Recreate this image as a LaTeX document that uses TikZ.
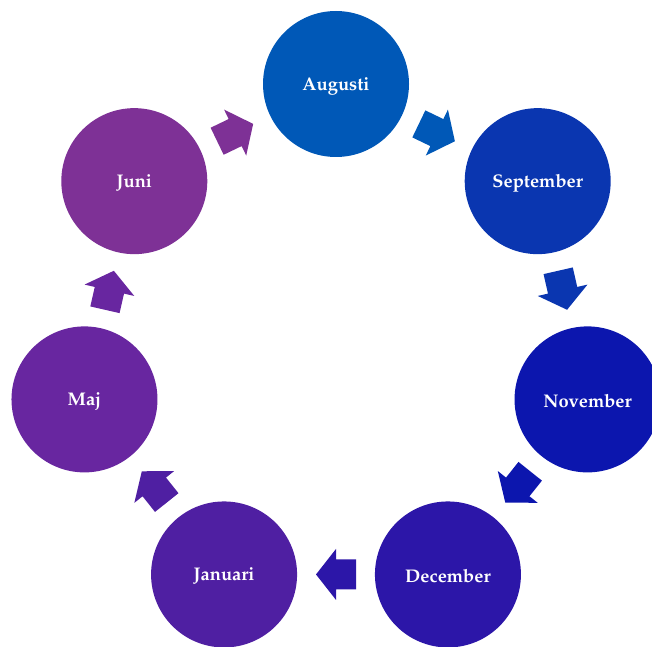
\documentclass[tikz,border=0pt]{standalone}
\usepackage[T1]{fontenc}
\usepackage{mathpazo}
\usetikzlibrary{calc}
\definecolor{c0}{HTML}{0058B7}
\definecolor{c1}{HTML}{0A36B0}
\definecolor{c2}{HTML}{0C16AE}
\definecolor{c3}{HTML}{2C16A8}
\definecolor{c4}{HTML}{4F1FA2}
\definecolor{c5}{HTML}{6826A0}
\definecolor{c6}{HTML}{7E3196}
\tikzset{
  month/.style={circle, minimum size=146pt, inner sep=0pt, text=white,
    font=\fontsize{18.3}{20}\selectfont\bfseries},
  blockarrow/.style={draw=none}
}
\begin{document}
\begin{tikzpicture}[x=1pt,y=1pt]
\useasboundingbox (0,0) rectangle (652,646);
\clip (0,0) rectangle (652,646);
\coordinate (ctr) at (336,304);
\foreach \k/\name/\lab in {0/aug/Augusti,1/sep/September,2/nov/November,3/dec/December,4/jan/Januari,5/maj/Maj,6/jun/Juni}{
  \pgfmathsetmacro{\ang}{90-\k*360/7}
  \node[month, fill=c\k] (\name) at ($(ctr)+(\ang:258)$) {\raisebox{-2pt}[\height][\depth]{\lab}};
}
\foreach \k/\a/\b in {0/aug/sep,1/sep/nov,2/nov/dec,3/dec/jan,4/jan/maj,5/maj/jun,6/jun/aug}{
  \pgfmathsetmacro{\dir}{90-\k*360/7-90-360/14}
  \fill[blockarrow, c\k, shift={($(\a.center)!0.5!(\b.center)$)}, rotate=\dir]
    (-20,-15) -- (0,-15) -- (0,-25.5) -- (20,0) -- (0,25.5) -- (0,15) -- (-20,15) -- cycle;
}
\end{tikzpicture}
\end{document}
